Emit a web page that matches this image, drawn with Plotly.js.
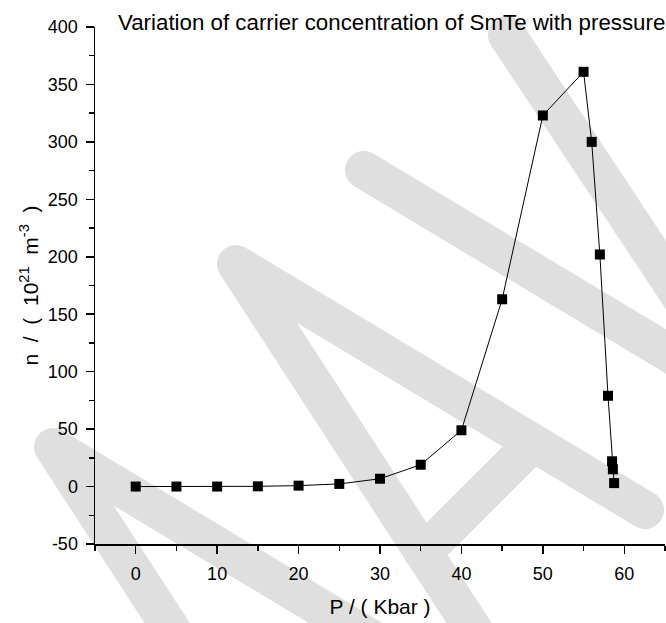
<!DOCTYPE html>
<html>
<head>
<meta charset="utf-8">
<script src="https://cdn.plot.ly/plotly-3.0.1.min.js"></script>
<style>
  html, body { margin: 0; padding: 0; background: #ffffff; }
  #chart { width: 666px; height: 623px; }
</style>
</head>
<body>
<div id="chart"></div>
<script>
// Data
var pressure = [0, 5, 10, 15, 20, 25, 30, 35, 40, 45, 50, 55, 56, 57, 58, 58.5, 58.6, 58.75];
var concentration = [0, 0, 0, 0.2, 0.8, 2.3, 6.8, 19, 49, 163, 323, 361, 300, 202, 79, 22, 15, 3];

// Tick labels
var xTicks = [0, 10, 20, 30, 40, 50, 60];
var yTicks = [-50, 0, 50, 100, 150, 200, 250, 300, 350, 400];
var xTickText = xTicks.map(String);
var yTickText = yTicks.map(String); // plain ASCII hyphen as in the reference

var titleText = 'Variation of carrier concentration of SmTe with pressure';
var xTitle = 'P / ( Kbar )';
var S = '\u00a0\u00a0';
var yTitle = 'n' + S + '/' + S + '(' + S + '10<sup>21</sup>' + S + 'm<sup>-3</sup>' + S + ')';

// Layout geometry
var W = 666, H = 623;
var M = {l: 95, r: 1, t: 27, b: 79};
var pw = W - M.l - M.r, ph = H - M.t - M.b;
function px(x) { return (x - M.l) / pw; }
function py(y) { return (H - M.b - y) / ph; }
function pathOf(pts) {
  return pts.map(function (p, i) {
    return (i ? 'L' : 'M') + px(p[0]).toFixed(4) + ',' + py(p[1]).toFixed(4);
  }).join(' ');
}

// Light grey background watermark strokes (decoration, in pixel space)
var wmStrokes = [
  [[519, 700], [236, 264], [645, 510]],
  [[532, 444], [423, 553]],
  [[336, 883], [53, 447], [462, 693]],
  [[349, 627], [240, 736]],
  [[364, 170], [720, 384]],
  [[507, 35], [760, 417]]
];
var wmColor = '#dfdfdf';
var shapes = wmStrokes.map(function (s) {
  return {
    type: 'path', xref: 'paper', yref: 'paper', layer: 'below',
    path: pathOf(s),
    line: {color: wmColor, width: 38}
  };
});

var font = 'Liberation Sans, Arial, Helvetica, sans-serif';

var trace = {
  x: pressure,
  y: concentration,
  type: 'scatter',
  mode: 'lines+markers',
  line: {color: '#000000', width: 1},
  marker: {symbol: 'square', size: 10, color: '#000000'},
  cliponaxis: false,
  hoverinfo: 'skip'
};

var layout = {
  width: W, height: H,
  margin: M,
  paper_bgcolor: '#ffffff',
  plot_bgcolor: 'rgba(0,0,0,0)',
  showlegend: false,
  font: {family: font, color: '#000000', size: 18},
  title: {
    text: titleText,
    font: {family: font, size: 22.3, color: '#000000'},
    xref: 'paper', x: px(118), xanchor: 'left',
    yref: 'container', y: 1 - 22 / H, yanchor: 'middle'
  },
  xaxis: {
    range: [-5, 65],
    showgrid: false, zeroline: false,
    showline: true, linecolor: '#000000', linewidth: 1.5,
    ticks: 'outside', ticklen: 8, tickwidth: 1.5, tickcolor: '#000000',
    tickmode: 'array', tickvals: xTicks, ticktext: xTickText,
    tickfont: {family: font, size: 18, color: '#000000'},
    ticklabelstandoff: 5,
    minor: {dtick: 5, tick0: 0, ticks: 'outside', ticklen: 5, tickwidth: 1.5, tickcolor: '#000000', showgrid: false},
    title: {text: xTitle, font: {family: font, size: 21, color: '#000000'}, standoff: 16},
    automargin: false,
    fixedrange: true
  },
  yaxis: {
    range: [-50, 400],
    showgrid: false, zeroline: false,
    showline: true, linecolor: '#000000', linewidth: 1.5,
    ticks: 'outside', ticklen: 8, tickwidth: 1.5, tickcolor: '#000000',
    tickmode: 'array', tickvals: yTicks, ticktext: yTickText,
    tickfont: {family: font, size: 18, color: '#000000'},
    ticklabelstandoff: 4,
    minor: {dtick: 25, tick0: 0, ticks: 'outside', ticklen: 5, tickwidth: 1.5, tickcolor: '#000000', showgrid: false},
    title: {text: yTitle, font: {family: font, size: 21, color: '#000000'}, standoff: 3},
    automargin: false,
    fixedrange: true
  },
  shapes: shapes,
  hovermode: false
};

Plotly.newPlot('chart', [trace], layout, {displayModeBar: false, staticPlot: true}).then(function () {
  document.querySelectorAll('.shapelayer path').forEach(function (p) {
    p.style.strokeLinecap = 'round';
    p.style.strokeLinejoin = 'round';
  });
});
</script>
</body>
</html>
